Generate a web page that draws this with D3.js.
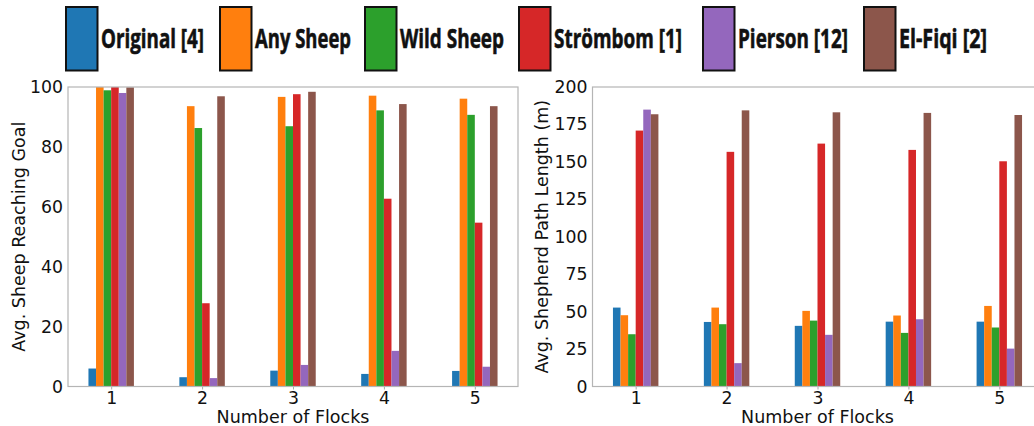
<!DOCTYPE html>
<html>
<head>
<meta charset="utf-8">
<script src="https://cdn.jsdelivr.net/npm/d3@7"></script>
<style>
  body { margin: 0; background: #fff; }
  svg { display: block; }
</style>
</head>
<body>
<div id="chart"></div>
<script>
/// DATA

const flocks = [1, 2, 3, 4, 5]
const methods = ["Original [4]", "Any Sheep", "Wild Sheep", "Strömbom [1]", "Pierson [12]", "El-Fiqi [2]"]
const colors = ["#1f77b4", "#ff7f0e", "#2ca02c", "#d62728", "#9467bd", "#8c564b"]

// avg sheep reaching goal, one row per method, one value per flock count
const sheepGoal = [
  [6.0, 3.1, 5.3, 4.2, 5.2],
  [100, 93.6, 96.7, 97.1, 96.1],
  [98.9, 86.3, 86.9, 92.2, 90.7],
  [100, 27.8, 97.6, 62.7, 54.7],
  [98.0, 2.8, 7.2, 11.9, 6.6],
  [99.9, 96.9, 98.4, 94.3, 93.6],
]
const sheepTicks = [0, 20, 40, 60, 80, 100]

// avg shepherd path length (m)
const pathLength = [
  [52.7, 43.1, 40.5, 43.3, 43.3],
  [47.6, 52.7, 50.5, 47.4, 53.8],
  [34.9, 41.6, 44.0, 35.8, 39.4],
  [170.9, 156.7, 162.2, 158.0, 150.4],
  [184.9, 15.6, 34.5, 44.9, 25.3],
  [181.8, 184.4, 183.1, 182.7, 181.3],
]
const pathTicks = [0, 25, 50, 75, 100, 125, 150, 175, 200]

const width = 1034
const height = 426

const svg = d3
  .select("#chart")
  .append("svg")
  .attr("width", width)
  .attr("height", height)
  .attr("viewBox", [0, 0, width, height])

/// LEGEND

const legendBoxX = [66, 220, 365, 519, 703, 864]
const legendTextW = [103, 96, 104, 128, 110, 88]

const legend = svg
  .selectAll(".legend-item")
  .data(methods)
  .join("g")
  .attr("class", "legend-item")
  .attr("transform", (d, i) => `translate(${legendBoxX[i]},0)`)

legend
  .append("rect")
  .attr("x", 0)
  .attr("y", 7)
  .attr("width", 31.5)
  .attr("height", 63.5)
  .attr("fill", (d, i) => colors[i])
  .attr("stroke", "#111")
  .attr("stroke-width", 2)

legend
  .append("text")
  .attr("x", 35)
  .attr("y", 48)
  .attr("textLength", (d, i) => legendTextW[i])
  .attr("lengthAdjust", "spacingAndGlyphs")
  .style("font-family", "'Open Sans', 'DejaVu Sans Condensed', sans-serif")
  .style("font-weight", "700")
  .style("font-size", "27px")
  .style("fill", "#111")
  .style("stroke", "#111")
  .style("stroke-width", 0.6)
  .text((d) => d)

/// PANELS

function drawPanel(opts) {
  const { left, right, values, yMax, ticks, yLabel, yLabelX } = opts
  const top = 87
  const bottom = 386.5

  const xScale = d3.scaleLinear().domain([0.525, 5.475]).range([left, right])
  const yScale = d3.scaleLinear().domain([0, yMax]).range([bottom, top])
  const barW = xScale(0.5 / 6) - xScale(0)

  const g = svg.append("g")

  g.selectAll(".series")
    .data(values)
    .join("g")
    .attr("class", "series")
    .attr("fill", (d, i) => colors[i])
    .each(function (row, i) {
      d3.select(this)
        .selectAll("rect")
        .data(row)
        .join("rect")
        .attr("x", (v, j) => xScale(flocks[j]) + (i - 3) * barW)
        .attr("y", (v) => yScale(v))
        .attr("width", barW)
        .attr("height", (v) => yScale(0) - yScale(v))
    })

  const xAxis = d3
    .axisBottom(xScale)
    .tickValues(flocks)
    .tickFormat(d3.format("d"))
    .tickSizeInner(3)
    .tickSizeOuter(0)
    .tickPadding(2)

  const yAxis = d3
    .axisLeft(yScale)
    .tickValues(ticks)
    .tickSizeInner(0)
    .tickSizeOuter(0)
    .tickPadding(5)

  const gx = g
    .append("g")
    .attr("transform", `translate(0,${bottom})`)
    .call(xAxis)
  const gy = g.append("g").attr("transform", `translate(${left},0)`).call(yAxis)

  ;[gx, gy].forEach((ax) => {
    ax.select(".domain").remove()
    ax.selectAll("line").attr("stroke", "#aaa")
    ax.selectAll("text")
      .style("font-family", "'DejaVu Sans', sans-serif")
      .style("font-size", "17.3px")
      .style("fill", "#111")
  })

  // frame (the right panel runs off the page)
  g.append("rect")
    .attr("x", left)
    .attr("y", top)
    .attr("width", right - left)
    .attr("height", bottom - top)
    .attr("fill", "none")
    .attr("stroke", "#b5b5b5")
    .attr("stroke-width", 1.2)

  g.append("text")
    .attr("x", (left + right) / 2)
    .attr("y", 423)
    .attr("text-anchor", "middle")
    .style("font-family", "'DejaVu Sans', sans-serif")
    .style("font-size", "17.5px")
    .style("fill", "#111")
    .text("Number of Flocks")

  g.append("text")
    .attr("transform", `translate(${yLabelX},${(top + bottom) / 2}) rotate(-90)`)
    .attr("text-anchor", "middle")
    .style("font-family", "'DejaVu Sans', sans-serif")
    .style("font-size", "17.5px")
    .style("fill", "#111")
    .text(yLabel)
}

drawPanel({
  left: 68,
  right: 518,
  values: sheepGoal,
  yMax: 100,
  ticks: sheepTicks,
  yLabel: "Avg. Sheep Reaching Goal",
  yLabelX: 25,
})

drawPanel({
  left: 592.5,
  right: 1042.5,
  values: pathLength,
  yMax: 200,
  ticks: pathTicks,
  yLabel: "Avg. Shepherd Path Length (m)",
  yLabelX: 548,
})
</script>
</body>
</html>
